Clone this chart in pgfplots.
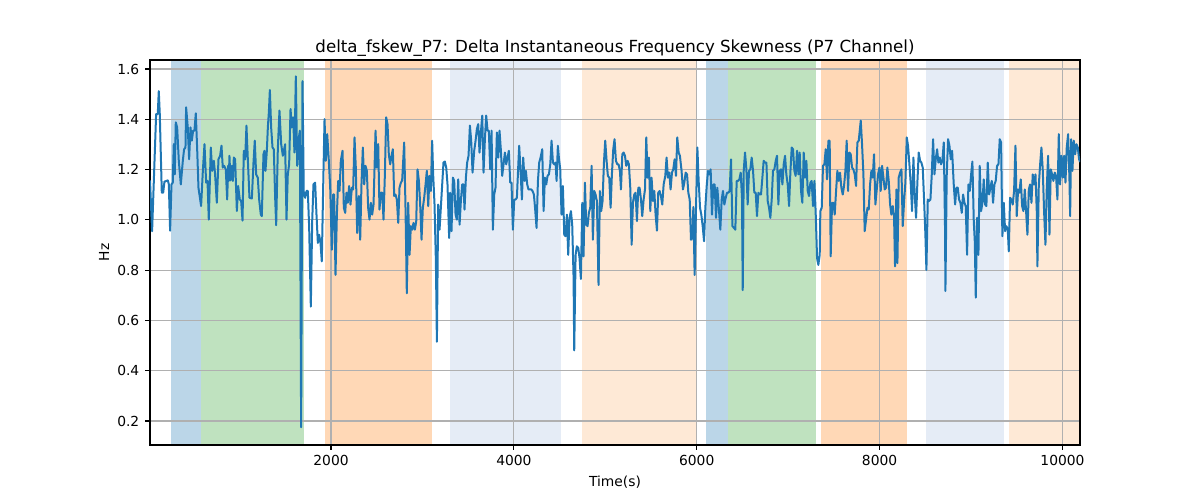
\documentclass[border=0pt]{standalone}
\usepackage{fontspec}
\setmainfont{DejaVu Sans}
\usepackage{pgfplots}
\pgfplotsset{compat=1.18}
\definecolor{tabblue}{RGB}{31,119,180}
\definecolor{taborange}{RGB}{255,127,14}
\definecolor{tabgreen}{RGB}{44,160,44}
\definecolor{lblue}{RGB}{229,236,246}
\definecolor{lorange}{RGB}{254,233,214}
\definecolor{gridgray}{RGB}{176,176,176}
\begin{document}
\begin{tikzpicture}
\begin{axis}[
  set layers,
  at={(0,0)}, anchor=south west,
  scale only axis, width=558pt, height=231pt,
  xmin=20, xmax=10192, ymin=0.1045, ymax=1.636,
  enlargelimits=false,
  scaled x ticks=false,
  xtick={2000,4000,6000,8000,10000},
  ytick={0.2,0.4,0.6,0.8,1.0,1.2,1.4,1.6},
  yticklabel style={/pgf/number format/fixed, /pgf/number format/fixed zerofill, /pgf/number format/precision=1},
  xticklabel style={/pgf/number format/set thousands separator={}},
  /pgf/number format/assume math mode=true,
  tick label style={font=\fontsize{8.3}{10}\selectfont},
  label style={font=\fontsize{8.3}{10}\selectfont},
  title style={font=\fontsize{10}{12}\selectfont, yshift=-7.6pt},
  title={delta\_fskew\_P7: Delta Instantaneous Frequency Skewness (P7 Channel)},
  xlabel={Time(s)}, ylabel={Hz},
  xlabel style={yshift=1pt},
  ylabel style={yshift=-2pt},
  grid=major,
  major grid style={color=gridgray, line width=0.67pt},
  axis line style={line width=0.67pt},
  tick align=outside, xtick pos=bottom, ytick pos=left,
  major tick length=2.9pt,
  tick style={line width=0.67pt, black},
]
\addplot[on layer=axis background, draw=none, fill=tabblue, fill opacity=0.3] coordinates {(255,0.1045) (255,1.636) (580,1.636) (580,0.1045)} --cycle;
\addplot[on layer=axis background, draw=none, fill=tabgreen, fill opacity=0.3] coordinates {(580,0.1045) (580,1.636) (1707,1.636) (1707,0.1045)} --cycle;
\addplot[on layer=axis background, draw=none, fill=taborange, fill opacity=0.3] coordinates {(1929,0.1045) (1929,1.636) (3107,1.636) (3107,0.1045)} --cycle;
\addplot[on layer=axis background, draw=none, fill=lblue] coordinates {(3297,0.1045) (3297,1.636) (4518,1.636) (4518,0.1045)} --cycle;
\addplot[on layer=axis background, draw=none, fill=lorange] coordinates {(4741,0.1045) (4741,1.636) (5993,1.636) (5993,0.1045)} --cycle;
\addplot[on layer=axis background, draw=none, fill=tabblue, fill opacity=0.3] coordinates {(6097,0.1045) (6097,1.636) (6341,1.636) (6341,0.1045)} --cycle;
\addplot[on layer=axis background, draw=none, fill=tabgreen, fill opacity=0.3] coordinates {(6341,0.1045) (6341,1.636) (7301,1.636) (7301,0.1045)} --cycle;
\addplot[on layer=axis background, draw=none, fill=taborange, fill opacity=0.3] coordinates {(7356,0.1045) (7356,1.636) (8296,1.636) (8296,0.1045)} --cycle;
\addplot[on layer=axis background, draw=none, fill=lblue] coordinates {(8504,0.1045) (8504,1.636) (9365,1.636) (9365,0.1045)} --cycle;
\addplot[on layer=axis background, draw=none, fill=lorange] coordinates {(9413,0.1045) (9413,1.636) (10192,1.636) (10192,0.1045)} --cycle;
\addplot[color=tabblue, line width=1.2pt, line join=round, mark=none] table {
20 1.157
43 0.955
87 1.421
105 1.421
116 1.512
127 1.421
149 1.108
164 1.108
178 1.152
215 1.157
226 1.141
240 0.957
255 1.141
269 1.148
280 1.301
291 1.181
302 1.388
317 1.368
335 1.235
357 1.141
379 1.235
393 1.281
408 1.288
415 1.448
433 1.368
448 1.241
463 1.368
477 1.315
492 1.355
506 1.355
521 1.424
536 1.281
550 1.128
579 1.055
598 1.195
616 1.301
634 1.148
649 1.155
663 1.001
685 1.288
700 1.195
718 1.235
732 1.181
751 1.068
769 1.241
787 1.255
802 1.295
816 1.208
831 1.215
849 1.201
864 1.081
875 1.215
882 1.155
889 1.255
900 1.157
915 1.215
926 1.155
937 1.248
951 1.241
970 1.035
984 1.135
1002 1.081
1017 1.075
1032 0.997
1046 1.275
1061 1.241
1075 1.375
1090 1.241
1108 1.088
1134 1.085
1152 1.228
1166 1.315
1181 1.181
1199 1.168
1214 1.081
1232 1.021
1243 1.015
1261 1.261
1272 1.275
1283 1.195
1298 1.275
1309 1.368
1320 1.428
1331 1.517
1345 1.368
1360 1.288
1374 1.281
1389 1.088
1400 0.979
1418 1.281
1436 1.435
1455 1.301
1473 1.255
1498 1.301
1513 1.001
1527 1.181
1542 1.221
1557 1.441
1571 1.368
1586 1.408
1600 1.268
1615 1.571
1630 1.215
1644 1.315
1659 1.355
1673 0.175
1688 1.552
1702 1.101
1717 1.088
1732 1.115
1746 1.115
1761 0.968
1779 0.655
1794 0.995
1808 1.141
1826 1.148
1841 1.021
1856 0.908
1870 0.941
1885 0.908
1899 0.835
1914 1.128
1929 1.401
1943 1.235
1958 1.341
1976 1.235
1991 1.128
2009 0.881
2023 1.101
2034 1.101
2049 0.781
2064 1.021
2078 1.155
2093 1.115
2107 1.235
2126 1.275
2140 1.048
2155 1.028
2169 1.108
2184 1.068
2198 1.135
2213 1.061
2228 1.128
2242 1.121
2257 1.328
2271 1.208
2286 0.948
2304 1.095
2319 0.921
2333 1.141
2348 1.288
2363 1.141
2377 1.215
2392 1.195
2406 1.048
2421 1.001
2436 1.068
2450 1.021
2465 1.061
2487 1.355
2501 1.208
2516 1.301
2530 1.041
2545 1.108
2560 1.108
2574 1.001
2589 1.181
2603 1.408
2618 1.381
2632 1.261
2647 1.221
2662 1.255
2676 1.281
2691 1.095
2705 1.101
2720 1.081
2735 0.988
2749 1.128
2764 1.148
2778 1.157
2800 1.308
2815 1.041
2829 0.708
2844 1.068
2859 0.861
2873 0.975
2888 0.961
2902 0.988
2917 0.961
2932 0.995
2946 1.201
2961 1.155
2975 1.061
2990 0.921
3004 1.048
3019 1.088
3034 1.141
3048 1.195
3063 1.055
3077 1.175
3092 1.115
3106 1.315
3117 1.181
3132 1.061
3147 0.835
3158 0.515
3172 1.061
3187 0.961
3201 1.048
3216 1.141
3230 1.228
3245 1.232
3260 1.208
3274 1.141
3292 0.928
3303 1.108
3318 0.955
3333 1.168
3347 1.155
3362 1.021
3376 1.001
3391 1.161
3406 0.981
3420 1.075
3435 1.141
3449 1.141
3460 1.041
3475 1.168
3489 1.228
3504 1.255
3519 1.375
3533 1.315
3548 1.188
3566 1.275
3581 1.315
3595 1.361
3610 1.381
3624 1.268
3639 1.348
3654 1.415
3668 1.188
3683 1.321
3697 1.415
3712 1.355
3726 1.355
3741 1.201
3756 1.355
3770 0.961
3785 1.101
3799 1.128
3814 1.348
3829 1.248
3843 1.355
3858 1.275
3872 1.175
3887 1.221
3902 1.268
3916 1.221
3931 1.248
3945 1.275
3960 1.148
3974 1.148
3989 0.961
4004 1.081
4018 1.081
4033 1.088
4047 1.208
4058 1.295
4073 1.195
4088 1.081
4102 1.248
4117 1.155
4131 1.195
4146 1.141
4160 1.121
4175 1.121
4190 1.121
4204 1.115
4219 1.101
4233 1.041
4248 0.968
4263 1.155
4277 1.228
4292 1.248
4310 1.281
4325 1.035
4339 1.168
4354 1.141
4368 1.175
4383 1.181
4398 1.221
4412 1.315
4427 1.228
4441 1.221
4456 1.228
4467 1.155
4481 1.295
4492 1.248
4507 1.201
4521 1.021
4536 1.135
4551 0.941
4565 0.935
4580 1.021
4594 0.861
4609 1.008
4624 1.035
4638 0.981
4653 0.768
4660 0.481
4675 0.861
4689 0.895
4704 0.888
4718 0.848
4733 0.765
4748 1.068
4762 0.855
4777 1.148
4791 0.981
4806 0.975
4820 1.028
4835 1.048
4850 1.215
4864 0.921
4879 1.115
4893 1.101
4908 1.075
4926 0.741
4941 1.115
4955 1.035
4970 1.075
4985 1.228
4999 1.315
5014 1.235
5028 1.175
5043 1.168
5058 1.048
5072 1.181
5087 1.281
5101 1.321
5116 1.235
5131 1.221
5145 1.221
5160 1.195
5171 1.121
5186 1.261
5200 1.268
5215 1.255
5229 1.215
5244 1.235
5258 1.221
5273 1.128
5288 0.901
5302 1.068
5317 1.101
5331 1.108
5346 0.995
5361 1.128
5375 1.128
5390 1.081
5404 1.015
5419 1.081
5434 1.121
5448 1.328
5463 1.168
5477 1.248
5492 1.035
5506 1.168
5521 1.075
5536 1.115
5550 1.021
5565 0.957
5579 1.108
5594 1.115
5608 1.095
5623 1.061
5638 1.141
5656 1.175
5670 1.248
5685 1.168
5700 1.188
5714 1.121
5729 1.188
5743 1.201
5758 1.241
5773 1.175
5787 1.328
5802 1.268
5816 1.255
5834 1.195
5849 1.121
5864 1.148
5879 1.188
5894 1.181
5908 1.108
5923 1.081
5937 0.921
5952 0.928
5963 1.051
5977 0.781
5992 1.048
6007 1.288
6021 1.155
6036 1.048
6050 1.021
6065 0.975
6080 0.915
6094 1.048
6109 1.135
6123 1.195
6138 1.181
6152 1.201
6167 1.021
6182 1.141
6196 1.141
6211 1.008
6225 1.128
6240 1.055
6258 0.961
6273 1.081
6287 1.115
6302 1.061
6317 1.088
6331 1.108
6346 1.108
6360 1.115
6375 1.241
6390 0.975
6408 0.968
6422 0.961
6437 1.155
6452 1.155
6466 1.161
6481 1.188
6495 1.088
6503 0.721
6514 1.195
6528 1.268
6543 1.201
6557 1.061
6572 1.195
6586 1.201
6601 1.248
6616 1.195
6630 1.108
6645 1.108
6659 1.015
6674 1.108
6689 1.101
6703 1.101
6718 1.168
6732 1.235
6747 1.228
6762 1.228
6776 1.075
6791 1.048
6805 1.008
6820 1.081
6834 1.195
6849 1.201
6864 1.235
6878 1.255
6893 1.061
6907 1.195
6922 1.201
6937 1.141
6951 1.221
6966 1.255
6980 1.181
6995 1.141
7010 1.055
7024 1.188
7039 1.288
7053 1.281
7068 1.195
7082 1.175
7097 1.275
7112 1.181
7126 1.268
7141 1.115
7155 1.068
7170 1.268
7185 1.168
7199 1.235
7214 1.115
7228 1.095
7243 1.148
7257 1.155
7272 1.055
7287 1.155
7301 1.028
7316 0.848
7330 0.821
7345 0.861
7352 1.035
7367 1.048
7381 1.215
7396 1.221
7411 1.281
7425 1.161
7440 1.315
7454 1.315
7465 0.855
7480 1.068
7495 1.068
7509 1.021
7524 1.115
7538 1.195
7553 1.155
7567 1.188
7582 1.128
7597 1.101
7611 1.135
7626 1.195
7640 1.315
7655 1.115
7670 1.268
7684 1.261
7699 1.208
7713 1.201
7728 1.181
7743 1.135
7757 1.308
7772 1.315
7779 1.341
7794 1.395
7808 1.301
7823 1.181
7837 0.955
7852 1.001
7867 1.048
7881 1.041
7896 1.141
7910 1.195
7925 1.168
7939 1.261
7954 1.061
7969 1.121
7983 1.181
7998 1.208
8012 1.115
8027 1.215
8042 1.168
8056 1.121
8071 1.128
8085 1.208
8100 1.155
8115 1.061
8129 1.021
8144 1.055
8158 1.015
8169 0.815
8184 1.121
8195 0.828
8209 1.168
8224 1.188
8239 1.201
8253 0.975
8268 1.075
8282 1.148
8297 1.328
8311 1.295
8326 1.221
8341 1.141
8355 1.035
8370 1.248
8384 1.101
8399 1.008
8414 1.155
8428 1.268
8443 1.235
8457 1.228
8472 1.208
8487 1.075
8501 0.941
8512 0.801
8527 1.081
8541 1.075
8556 1.081
8570 1.175
8585 1.321
8600 1.181
8614 1.241
8629 1.281
8643 1.228
8658 1.248
8672 1.221
8687 1.235
8702 1.308
8716 0.961
8720 0.717
8734 1.175
8749 1.321
8764 1.295
8778 1.241
8793 1.275
8811 1.141
8826 1.061
8840 1.128
8855 1.128
8869 1.081
8884 1.068
8899 1.028
8913 1.101
8928 1.068
8942 1.055
8957 0.861
8971 1.141
8986 1.115
9001 1.181
9015 1.232
9030 0.995
9041 0.915
9052 0.691
9066 1.008
9081 0.861
9095 1.215
9110 1.035
9125 1.068
9139 1.161
9154 1.061
9168 1.055
9183 1.228
9198 1.101
9212 1.128
9227 1.155
9241 1.068
9256 1.141
9270 1.155
9285 1.215
9300 1.221
9314 1.321
9329 1.308
9343 0.935
9358 1.068
9373 0.955
9387 0.975
9402 0.961
9413 0.875
9427 1.088
9442 1.081
9456 1.061
9471 1.115
9486 1.295
9500 1.015
9515 1.121
9529 1.108
9544 1.161
9559 1.055
9573 1.035
9588 1.121
9602 1.035
9617 0.941
9632 1.121
9646 1.141
9661 1.068
9675 1.181
9690 1.141
9705 1.181
9719 1.035
9726 0.815
9741 1.135
9756 1.221
9770 1.288
9785 1.195
9799 1.035
9814 0.901
9828 1.121
9843 1.255
9858 0.941
9872 1.201
9887 1.181
9901 1.155
9916 1.188
9931 1.168
9945 1.081
9960 1.341
9974 1.141
9989 1.255
10004 1.168
10018 1.255
10033 1.148
10047 1.288
10062 1.341
10077 1.155
10084 1.015
10095 1.321
10109 1.195
10124 1.315
10139 1.261
10153 1.301
10168 1.288
10182 1.241
10192 1.230
};
\end{axis}
\path (-90pt,-33pt) rectangle (630pt,267pt);
\end{tikzpicture}
\end{document}
